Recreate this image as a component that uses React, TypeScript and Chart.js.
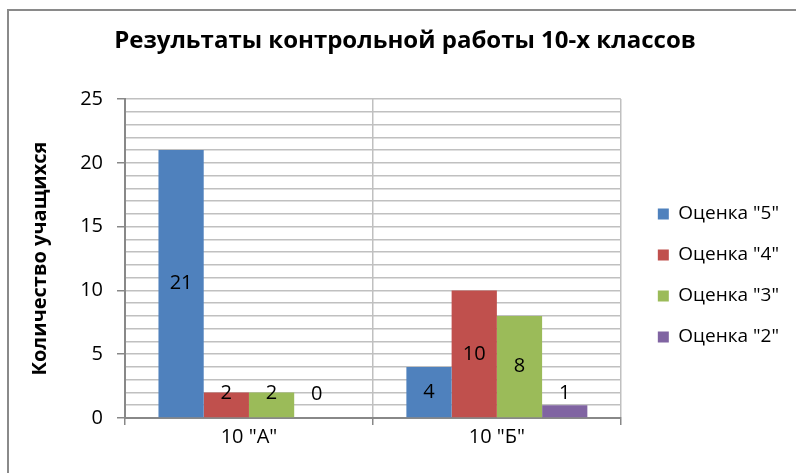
import { useEffect, useRef } from 'react';
import { Chart, registerables } from 'chart.js';

Chart.register(...registerables);

const titleText = 'Результаты контрольной работы 10-х классов';
const yAxisTitle = 'Количество учащихся';
const categories = ['10 "А"', '10 "Б"'];
const seriesNames = ['Оценка "5"', 'Оценка "4"', 'Оценка "3"', 'Оценка "2"'];
const grade5 = [21, 4];
const grade4 = [2, 10];
const grade3 = [2, 8];
const grade2 = [0, 1];
const seriesColors = ['#4F81BD', '#C0504D', '#9BBB59', '#8064A2'];
const yMin = 0;
const yMax = 25;
const yMajorStep = 5;

const FONT = '"Open Sans", "Noto Sans", sans-serif';
const LEGEND_GAP_X = 15;
const LEGEND_SHIFT_Y = 34;
const TITLE_SHIFT_X = 10;

const framePlugin = {
  id: 'frame',
  beforeDraw(chart: any) {
    const ctx = chart.ctx;
    ctx.save();
    ctx.fillStyle = '#ffffff';
    ctx.fillRect(0, 0, chart.width, chart.height);
    ctx.strokeStyle = '#8a8a8a';
    ctx.lineWidth = 2;
    ctx.beginPath();
    ctx.moveTo(8, chart.height);
    ctx.lineTo(8, 10);
    ctx.lineTo(chart.width, 10);
    ctx.stroke();
    ctx.restore();
  },
};

const shiftPlugin = {
  id: 'boxShift',
  afterLayout(chart: any) {
    const lg = chart.legend;
    if (lg) {
      lg.left += LEGEND_GAP_X;
      lg.right += LEGEND_GAP_X;
      lg.top += LEGEND_SHIFT_Y;
      lg.bottom += LEGEND_SHIFT_Y;
    }
    const tb = chart.titleBlock;
    if (tb) {
      tb.left += TITLE_SHIFT_X;
      tb.right += TITLE_SHIFT_X;
    }
  },
};

const labelPlugin = {
  id: 'barLabels',
  afterDatasetsDraw(chart: any) {
    const ctx = chart.ctx;
    ctx.save();
    ctx.font = `20px ${FONT}`;
    ctx.fillStyle = '#000';
    ctx.textAlign = 'center';
    ctx.textBaseline = 'middle';
    chart.data.datasets.forEach((ds: any, i: number) => {
      const meta = chart.getDatasetMeta(i);
      meta.data.forEach((bar: any, j: number) => {
        const v = ds.data[j];
        const base = bar.base;
        const y = Math.min((bar.y + base) / 2, base - 24);
        ctx.fillText(String(v), bar.x, y);
      });
    });
    ctx.restore();
  },
};

export default function App() {
  const ref = useRef<HTMLCanvasElement>(null);
  useEffect(() => {
    if (!ref.current) return;
    const allSeries = [grade5, grade4, grade3, grade2];
    const chart = new Chart(ref.current, {
      type: 'bar',
      data: {
        labels: categories,
        datasets: allSeries.map((d, i) => ({
          label: seriesNames[i],
          data: d,
          backgroundColor: seriesColors[i],
          borderWidth: 0,
          categoryPercentage: 0.73,
          barPercentage: 1,
        })),
      },
      plugins: [framePlugin, shiftPlugin, labelPlugin],
      options: {
        responsive: false,
        animation: false,
        devicePixelRatio: 1,
        layout: { padding: { left: 16, top: 10, right: 22, bottom: 0 } },
        plugins: {
          title: {
            display: true,
            text: titleText,
            color: '#000',
            font: { family: FONT, size: 24, weight: 'bold' },
            padding: { top: 16.6, bottom: 43.6 },
          },
          legend: {
            position: 'right',
            labels: {
              boxWidth: 11,
              boxHeight: 11,
              padding: 22,
              color: '#000',
              font: { family: FONT, size: 19 },
            },
          },
          tooltip: { enabled: false },
        },
        scales: {
          x: {
            grid: {
              offset: true,
              color: '#c0c0c0',
              lineWidth: 1.5,
              tickLength: 7,
              tickColor: '#888',
            },
            border: { color: '#888', width: 2 },
            ticks: { color: '#000', font: { family: FONT, size: 20 }, padding: 0 },
            afterFit(s: any) {
              s.height = 55;
            },
          },
          y: {
            min: yMin,
            max: yMax,
            ticks: {
              stepSize: 1,
              autoSkip: false,
              color: '#000',
              font: { family: FONT, size: 20 },
              padding: 14,
              callback: (v: any) => (Number(v) % yMajorStep === 0 ? String(v) : ''),
            },
            grid: {
              color: '#c0c0c0',
              lineWidth: 1.5,
              tickLength: 8,
              tickColor: (c: any) => (c.tick && c.tick.value % yMajorStep === 0 ? '#888' : 'rgba(0,0,0,0)'),
            },
            border: { color: '#888', width: 2 },
            title: {
              display: true,
              text: yAxisTitle,
              color: '#000',
              font: { family: FONT, size: 20, weight: 'bold' },
              padding: { top: 12, bottom: 0 },
            },
            afterFit(s: any) {
              s.width = 109;
            },
          },
        },
      } as any,
    });
    return () => chart.destroy();
  }, []);
  return (
    <canvas
      ref={ref}
      width={796}
      height={473}
      style={{ position: 'fixed', left: 0, top: 0, width: 796, height: 473 }}
    />
  );
}
